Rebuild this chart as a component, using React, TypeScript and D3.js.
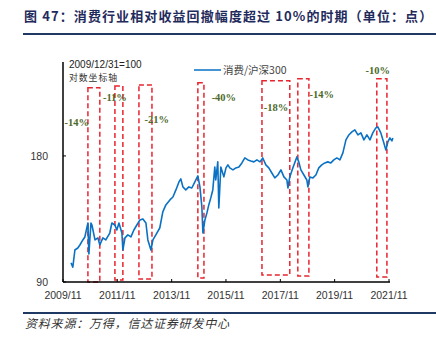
import React from "react";
import * as d3 from "d3";

const dates = [
  "2010-02-17","2010-03-13","2010-04-10","2010-05-19","2010-06-16","2010-07-26","2010-08-22","2010-10-02","2010-10-15","2010-11-12",
  "2010-11-25","2011-01-05","2011-02-14","2011-03-11","2011-04-21","2011-05-30","2011-07-23","2011-08-20","2011-09-30","2011-10-26",
  "2011-11-23","2012-01-02","2012-01-15","2012-02-12","2012-03-22","2012-05-02","2012-06-11","2012-07-21","2012-09-01","2012-10-10",
  "2012-11-20","2012-12-16","2013-01-26","2013-02-22","2013-04-02","2013-05-25","2013-07-05","2013-08-15","2013-10-08","2013-11-18",
  "2013-12-28","2014-02-07","2014-03-04","2014-04-01","2014-05-10","2014-06-20","2014-07-30","2014-09-09","2014-10-19","2014-11-16",
  "2014-12-12","2014-12-26","2015-01-22","2015-02-18","2015-03-15","2015-04-11","2015-05-08","2015-06-04","2015-06-17","2015-07-14",
  "2015-07-28","2015-08-24","2015-10-04","2015-11-01","2015-11-27","2015-12-23","2016-02-03","2016-03-13","2016-04-23","2016-06-02",
  "2016-07-12","2016-08-22","2016-10-01","2016-11-11","2016-12-21","2017-02-01","2017-03-10","2017-04-20","2017-05-30","2017-07-10",
  "2017-08-19","2017-09-29","2017-11-09","2017-12-19","2018-01-28","2018-02-11","2018-03-08","2018-04-18","2018-06-11","2018-07-07",
  "2018-08-04","2018-09-14","2018-10-23","2018-11-07","2018-12-03","2019-01-13","2019-02-22","2019-04-02","2019-05-12","2019-06-22",
  "2019-08-01","2019-09-11","2019-10-21","2019-12-01","2020-01-11","2020-02-20","2020-04-01","2020-05-10","2020-06-20","2020-07-30",
  "2020-09-09","2020-10-19","2020-11-29","2021-01-08","2021-02-18","2021-03-28","2021-05-08","2021-06-04","2021-07-14","2021-08-24",
  "2021-09-20","2021-10-17","2021-11-13","2021-12-10","2021-12-23",
];
const values = [
  100.0,97.7,107.3,108.5,110.3,113.4,115.3,124.5,105.0,124.5,
  123.1,113.4,114.7,110.3,114.7,113.4,117.8,124.5,123.1,119.8,
  124.5,117.8,107.3,114.7,116.6,115.3,119.8,123.1,126.6,127.3,
  124.5,113.4,107.3,113.4,116.6,121.1,132.3,137.5,141.3,143.6,
  149.3,156.0,158.6,151.8,149.3,151.8,150.9,156.0,161.3,151.8,
  136.0,117.8,126.6,131.6,137.5,142.9,149.3,169.4,157.7,174.2,
  135.2,169.4,160.4,168.5,171.3,168.5,166.7,168.5,169.4,173.2,
  178.0,176.1,175.1,174.2,176.1,174.2,178.0,171.3,168.5,163.9,
  159.5,162.1,166.7,160.4,157.7,150.9,160.4,168.5,179.0,174.2,
  166.7,162.1,157.7,151.8,160.4,159.5,162.1,168.5,171.3,173.2,
  174.2,173.2,176.1,178.0,176.1,183.0,196.6,202.0,205.4,207.7,
  202.0,204.3,196.6,202.0,196.6,204.3,210.0,211.1,204.3,193.3,
  186.0,194.4,198.7,195.5,198.7,
];

const boxStart = ["2010-10-02","2011-09-30","2012-08-18","2014-10-19","2017-02-27","2018-06-24","2021-05-21"];
const boxEnd = ["2011-03-11","2012-01-15","2013-02-09","2015-01-09","2018-03-08","2018-11-20","2021-10-04"];
const boxTop = [262, 264.5, 266, 269, 272, 275, 275];
const boxBottom = [90, 91, 91.5, 92, 93.5, 93, 92.5];
const drawdownLabels = ["-14%","-11%","-21%","-40%","-18%","-14%","-10%"];
const labelDates = ["2010-05-06","2011-09-30","2013-04-16","2015-10-04","2017-09-03","2019-05-12","2021-06-04"];
const labelValues = [217, 249, 220.6, 249, 235.7, 253, 288.9];

const xTicks = ["2009-11-01","2011-11-01","2013-11-01","2015-11-01","2017-11-01","2019-11-01","2021-11-01"];
const xTickLabels = ["2009/11","2011/11","2013/11","2015/11","2017/11","2019/11","2021/11"];
const yTicks = [90, 180];

const title = "图 47：消费行业相对收益回撤幅度超过 10%的时期（单位：点）";
const source = "资料来源：万得，信达证券研发中心";
const seriesName = "消费/沪深300";

const parse = d3.timeParse("%Y-%m-%d");

export default function App() {
  const W = 436, H = 339;
  const x = d3.scaleTime().domain([parse("2009-11-01")!, parse("2021-11-01")!]).range([63, 389]);
  const y = d3.scaleLog().domain([90, 300]).range([282, 63]);
  const pts = dates.map((d, i) => [parse(d)!, values[i]] as [Date, number]);
  const line = d3.line<[Date, number]>().x(d => x(d[0])).y(d => y(d[1]));
  const sans = "'Liberation Sans', Arial, sans-serif";
  const cjk = "'Noto Sans CJK SC', sans-serif";
  const red = "#e8252f";
  return (
    <svg width={W} height={H} style={{ position: "absolute", left: 0, top: 0, background: "#fff" }}>
      <rect x={0} y={0} width={W} height={H} fill="#fff" />
      <text x={24} y={21} fontFamily={cjk} fontWeight={700} fontSize={13} letterSpacing={1.1} fill="#1f2b5c">{title}</text>
      <line x1={23} x2={436} y1={34} y2={34} stroke="#1f3864" strokeWidth={2} />

      {boxStart.map((s, i) => {
        const x0 = x(parse(s)!), x1 = x(parse(boxEnd[i])!);
        const y0 = y(boxTop[i]), y1 = y(boxBottom[i]);
        return <rect key={i} x={x0} y={y0} width={x1 - x0} height={y1 - y0} fill="none" stroke={red} strokeWidth={1.5} strokeDasharray="5,3" />;
      })}

      <path d={line(pts) || ""} fill="none" stroke="#0a71c4" strokeWidth={1.6} strokeLinejoin="round" />

      <line x1={63} x2={63} y1={62} y2={282} stroke="#000" strokeWidth={1.5} />
      <line x1={63} x2={390} y1={282} y2={282} stroke="#000" strokeWidth={1.5} />
      {yTicks.map(t => (
        <g key={t}>
          <line x1={63} x2={66} y1={y(t)} y2={y(t)} stroke="#000" />
          <text x={48} y={y(t)} dy="0.35em" textAnchor="end" fontFamily={sans} fontSize={10.5} fill="#333">{t}</text>
        </g>
      ))}
      {xTicks.map((t, i) => (
        <g key={t}>
          <line x1={x(parse(t)!)} x2={x(parse(t)!)} y1={282} y2={279} stroke="#000" />
          <text x={x(parse(t)!)} y={295} dy="0.35em" textAnchor="middle" fontFamily={sans} fontSize={10.5} fill="#333">{xTickLabels[i]}</text>
        </g>
      ))}

      <text x={69} y={68} fontFamily={sans} fontSize={10} fill="#222">2009/12/31=100</text>
      <text x={69} y={81} fontFamily={cjk} fontSize={8.8} fill="#333" letterSpacing={1}>对数坐标轴</text>

      <line x1={194} x2={221} y1={70} y2={70} stroke="#0a71c4" strokeWidth={1.5} />
      <text x={223} y={70} dy="0.35em" fontFamily={cjk} fontSize={10.5} fill="#444">{seriesName}</text>

      {drawdownLabels.map((l, i) => (
        <text key={i} x={x(parse(labelDates[i])!)} y={y(labelValues[i])} dy="0.35em" textAnchor="middle"
          fontFamily="'Liberation Serif', 'Times New Roman', serif" fontWeight={700} fontSize={10.5} fill="#4d6a2b">{l}</text>
      ))}

      <line x1={23} x2={436} y1={313} y2={313} stroke="#1f3864" strokeWidth={2} />
      <text x={25} y={328} fontFamily={cjk} fontStyle="italic" fontSize={12} letterSpacing={0.8} fill="#333">{source}</text>
    </svg>
  );
}
